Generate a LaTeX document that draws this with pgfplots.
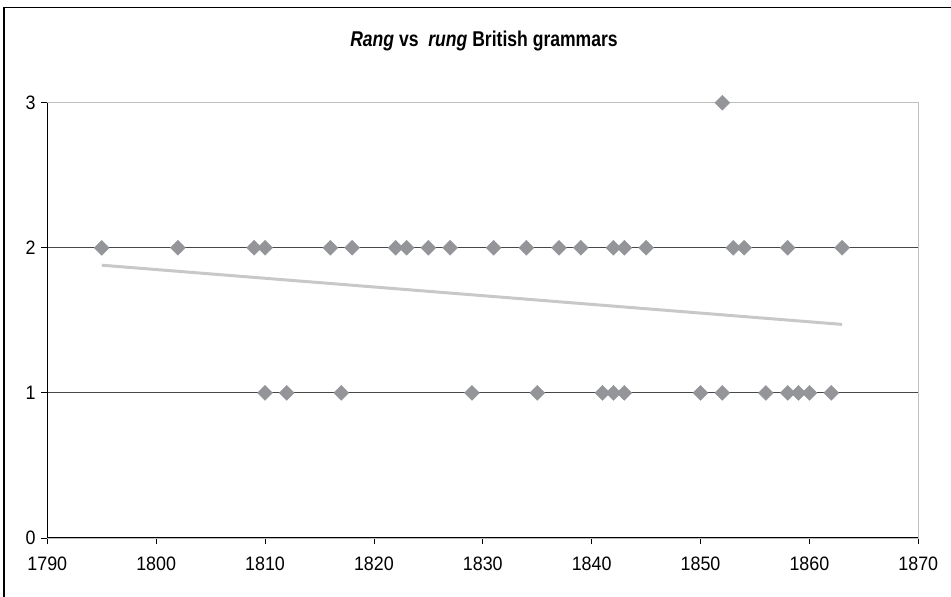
\documentclass[border=0pt]{standalone}
\usepackage{fontspec}
\setmainfont{Liberation Sans}
\newfontfamily\ticknarrow[FakeStretch=0.92]{Liberation Sans}
\newfontfamily\titlenarrow[FakeStretch=0.82]{Liberation Sans}
\usepackage{pgfplots}
\pgfplotsset{compat=1.18}
\definecolor{mk}{HTML}{939598}
\definecolor{trend}{HTML}{C8C8C8}
\begin{document}
\begin{tikzpicture}[x=1bp,y=1bp]
\useasboundingbox (0,0) rectangle (951,597);
\draw[line width=1.2bp] (4,0) -- (4,589.7) -- (951,589.7);
\node[font=\titlenarrow\fontsize{21.5}{24}\selectfont\bfseries] at (484,556) {\textit{Rang} vs\ \ \textit{rung} British grammars};
\begin{axis}[
  at={(47.3bp,59bp)}, anchor=south west,
  scale only axis, width=871bp, height=435.3bp,
  xmin=1790, xmax=1870, ymin=0, ymax=3,
  xtick={1790,1800,...,1870}, ytick={0,1,2,3},
  ymajorgrids, grid style={black!72, line width=0.8bp},
  axis line style={draw=black!25, line width=0.8bp},
  tick style={black, line width=0.8bp},
  major tick length=6.3bp, tick align=outside,
  xtick pos=bottom, ytick pos=left,
  ticklabel style={font=\ticknarrow\fontsize{19.5}{21}\selectfont},
  /pgf/number format/assume math mode=true,
  xticklabel style={/pgf/number format/1000 sep={}, yshift=-9bp},
  yticklabel style={xshift=-1.8bp},
  clip=false,
]
\addplot[trend, line width=3bp] coordinates {(1795,1.88) (1863,1.472)};
\addplot[only marks, mark=square*, mark size=5.3pt, mark options={rotate=45, fill=mk, draw=mk}] coordinates {
(1795,2) (1802,2) (1809,2) (1810,2) (1816,2) (1818,2) (1822,2) (1823,2) (1825,2) (1827,2) (1831,2)
(1834,2) (1837,2) (1839,2) (1842,2) (1843,2) (1845,2) (1853,2) (1854,2) (1858,2) (1863,2)
(1810,1) (1812,1) (1817,1) (1829,1) (1835,1) (1841,1) (1842,1) (1843,1) (1850,1) (1852,1)
(1856,1) (1858,1) (1859,1) (1860,1) (1862,1)
(1852,3)
};
\draw[black, line width=1bp] (rel axis cs:0,1) -- (rel axis cs:0,0) -- (rel axis cs:1,0);
\end{axis}
\end{tikzpicture}
\end{document}
